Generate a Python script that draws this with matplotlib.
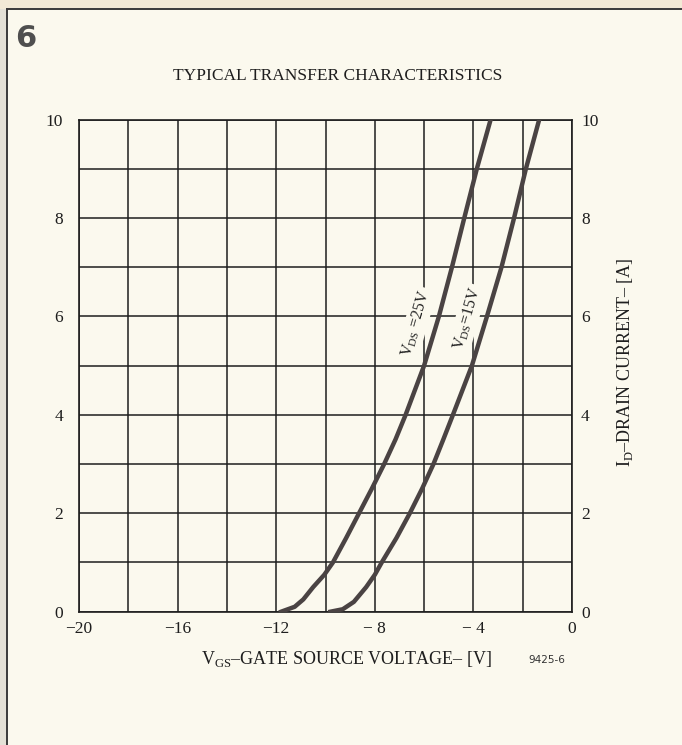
import matplotlib.pyplot as plt
from matplotlib.lines import Line2D
from matplotlib.patches import Rectangle

# Transfer curves, gate-source voltage [V] vs drain current [A]
id_25 = [0.0, 0.1, 0.25, 0.5, 0.75, 1.0, 1.5, 2.0, 2.5, 3.0, 3.5, 4.0, 5.0, 6.0, 7.0, 8.0, 9.0, 10.0]
vgs_25 = [-11.8, -11.25, -10.9, -10.5, -10.05, -9.7, -9.16, -8.64, -8.12, -7.62, -7.16, -6.75, -6.0, -5.4, -4.87, -4.37, -3.86, -3.3]

id_15 = [0.0, 0.05, 0.2, 0.5, 0.75, 1.0, 1.5, 2.0, 2.5, 3.0, 3.5, 4.0, 5.0, 6.0, 7.0, 8.0, 9.0, 10.0]
vgs_15 = [-9.8, -9.3, -8.85, -8.35, -8.0, -7.72, -7.12, -6.58, -6.08, -5.62, -5.22, -4.83, -4.06, -3.45, -2.86, -2.35, -1.87, -1.33]

x_ticks = [-20, -16, -12, -8, -4, 0]
x_tick_labels = ["\u221220", "\u221216", "\u221212", "\u2212 8", "\u2212 4", "0"]
y_ticks = [0, 2, 4, 6, 8, 10]

paper = "#fbf9ee"
ink = "#1e1e1e"
curve_col = "#4a4343"

plt.rcParams["font.family"] = ["Liberation Serif", "DejaVu Serif"]
plt.rcParams["mathtext.fontset"] = "custom"
plt.rcParams["mathtext.rm"] = "Liberation Serif"

W, H = 682, 745
fig = plt.figure(figsize=(W / 100, H / 100), dpi=100)
fig.patch.set_facecolor(paper)

# page edge and box frame
fig.add_artist(Rectangle((0, 0), 6 / W, 1, transform=fig.transFigure, color="#e4e1d6", zorder=0))
fig.add_artist(Rectangle((0, 1 - 8 / H), 1, 8 / H, transform=fig.transFigure, color="#f3ead6", zorder=0))
fig.add_artist(Line2D([7 / W, 7 / W], [0, 1 - 9 / H], transform=fig.transFigure, color="#3a3a3a", lw=1.4))
fig.add_artist(Line2D([7 / W, 1], [1 - 9 / H, 1 - 9 / H], transform=fig.transFigure, color="#3a3a3a", lw=1.4))

fig.text(15 / W, 1 - 47 / H, "6", fontsize=22, weight="bold", family="DejaVu Sans",
         color="#4f4f4f", va="baseline", ha="left")

ax = fig.add_axes([79 / W, 1 - 611.7 / H, 493 / W, 492.2 / H])
ax.set_facecolor(paper)
ax.set_xlim(-20, 0)
ax.set_ylim(0, 10)

# grid every 2 V and every 1 A
ax.set_xticks(range(-20, 1, 2))
ax.set_xticklabels([x_tick_labels[x_ticks.index(v)] if v in x_ticks else "" for v in range(-20, 1, 2)])
ax.set_yticks(range(0, 11))
ax.set_yticklabels([str(v) if v in y_ticks else "" for v in range(0, 11)])
ax.grid(True, color=ink, lw=1.1)
ax.set_axisbelow(True)
ax.tick_params(length=0, labelsize=12.5, colors=ink)
ax.tick_params(axis="x", pad=7)
ax.tick_params(axis="y", pad=11.5)
for s in ax.spines.values():
    s.set_color(ink)
    s.set_linewidth(1.2)

ax2 = ax.twinx()
ax2.set_ylim(0, 10)
ax2.set_yticks(y_ticks)
ax2.set_yticklabels([str(v) for v in y_ticks])
ax2.tick_params(length=0, labelsize=12.5, colors=ink, pad=6.5)
for s in ax2.spines.values():
    s.set_visible(False)

ax.plot(vgs_25, id_25, color=curve_col, lw=3.2, zorder=5, solid_joinstyle="round")
ax.plot(vgs_15, id_15, color=curve_col, lw=3.2, zorder=5, solid_joinstyle="round")

lbl_box = dict(facecolor=paper, edgecolor="none", pad=2)
ax.text(-6.33, 5.85, r"V$_\mathregular{DS}$ =25V", rotation=74, rotation_mode="anchor",
        ha="center", va="center", fontsize=11.5, color=ink, bbox=lbl_box, zorder=3)
ax.text(-4.26, 5.95, r"V$_\mathregular{DS}$=15V", rotation=74, rotation_mode="anchor",
        ha="center", va="center", fontsize=11.5, color=ink, bbox=lbl_box, zorder=3)

fig.text(338 / W, 1 - 76 / H, "TYPICAL TRANSFER CHARACTERISTICS", ha="center", va="center",
         fontsize=12.5, color=ink)
fig.text(346 / W, 1 - 659 / H, r"V$_\mathregular{GS}$" + "\u2013GATE SOURCE VOLTAGE\u2013 [V]",
         ha="center", va="center", fontsize=13, color=ink)
fig.text(547 / W, 1 - 660 / H, "9425-6", ha="center", va="center", fontsize=7.5,
         family="DejaVu Sans", color="#333333")
fig.text(625 / W, 1 - 362 / H, r"I$_\mathregular{D}$" + "\u2013DRAIN CURRENT\u2013 [A]", rotation=90,
         ha="center", va="center", fontsize=13, color=ink)

fig.savefig("out.png", dpi=100, facecolor=paper)
